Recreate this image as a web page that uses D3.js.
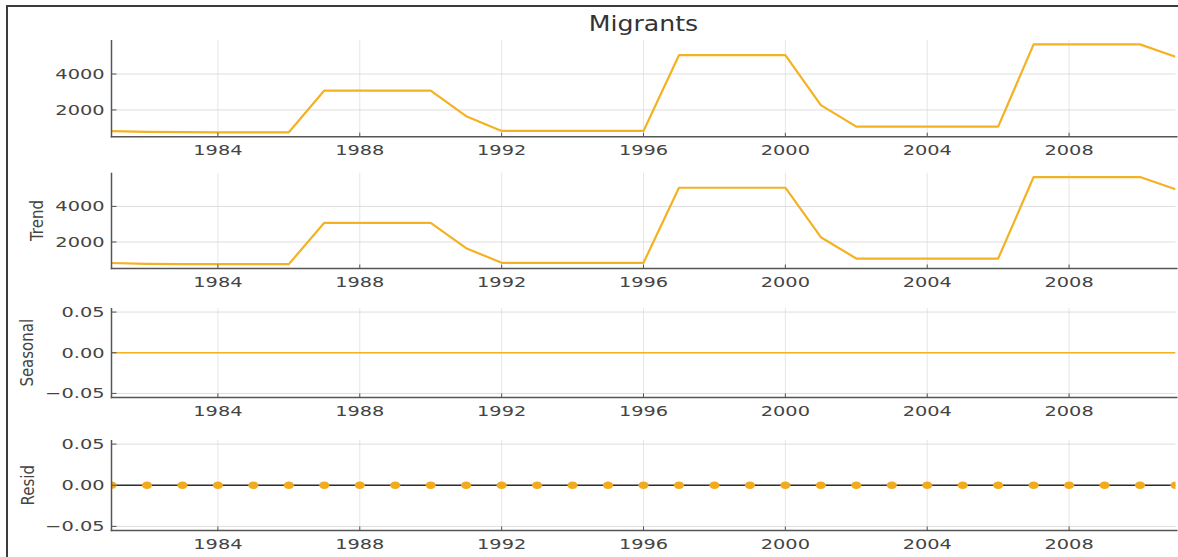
<!DOCTYPE html>
<html>
<head>
<meta charset="utf-8">
<script src="https://cdn.jsdelivr.net/npm/d3@7"></script>
<style>
  html, body { margin: 0; padding: 0; background: #fff; }
  svg { display: block; font-family: "DejaVu Sans", sans-serif; }
</style>
</head>
<body>
<svg id="chart" width="1178" height="557"></svg>
<script>
// Seasonal decomposition of the yearly migrant count
const years = [1981, 1982, 1983, 1984, 1985, 1986, 1987, 1988, 1989, 1990,
               1991, 1992, 1993, 1994, 1995, 1996, 1997, 1998, 1999, 2000,
               2001, 2002, 2003, 2004, 2005, 2006, 2007, 2008, 2009, 2010, 2011];
const observed = [820, 775, 760, 755, 755, 755, 3080, 3080, 3080, 3080,
                  1650, 830, 830, 830, 830, 830, 5050, 5050, 5050, 5050,
                  2270, 1070, 1070, 1070, 1070, 1070, 5650, 5650, 5650, 5650, 4960];
const trend = [820, 775, 760, 755, 755, 755, 3080, 3080, 3080, 3080,
               1650, 830, 830, 830, 830, 830, 5050, 5050, 5050, 5050,
               2270, 1070, 1070, 1070, 1070, 1070, 5650, 5650, 5650, 5650, 4960];
const seasonal = [0, 0, 0, 0, 0, 0, 0, 0, 0, 0, 0, 0, 0, 0, 0, 0,
                  0, 0, 0, 0, 0, 0, 0, 0, 0, 0, 0, 0, 0, 0, 0];
const resid = [0, 0, 0, 0, 0, 0, 0, 0, 0, 0, 0, 0, 0, 0, 0, 0,
               0, 0, 0, 0, 0, 0, 0, 0, 0, 0, 0, 0, 0, 0, 0];
const yearTicks = [1984, 1988, 1992, 1996, 2000, 2004, 2008];
const levelTicks = [2000, 4000];
const zeroTicks = [-0.05, 0, 0.05];
const chartTitle = "Migrants";
const panelNames = ["", "Trend", "Seasonal", "Resid"];

const W = 1178, H = 557;
const LINE = "#f4b223";
const DOT = "#f3ab1e";
const SX = 1.38;   // horizontal stretch of tick text

const svg = d3.select("#chart");
svg.append("rect").attr("width", W).attr("height", H).attr("fill", "#fff");

// outer frame
svg.append("path")
  .attr("d", "M7,557V6H1178")
  .attr("fill", "none").attr("stroke", "#3c3c3c").attr("stroke-width", 2);

const x = d3.scaleLinear().domain(d3.extent(years)).range([111.5, 1175.5]);

const panels = [
  { values: observed, top: 40,    bottom: 136.7, ticks: levelTicks, fmt: d3.format("d"),   kind: "line", lx: 0 },
  { values: trend,    top: 172.7, bottom: 268.5, ticks: levelTicks, fmt: d3.format("d"),   kind: "line", lx: 37 },
  { values: seasonal, top: 308,   bottom: 397.5, ticks: zeroTicks,  fmt: d3.format(".2f"), kind: "thin", lx: 27 },
  { values: resid,    top: 440,   bottom: 530.5, ticks: zeroTicks,  fmt: d3.format(".2f"), kind: "dots", lx: 28 }
];

function paddedDomain(vals) {
  let [lo, hi] = d3.extent(vals);
  if (lo === hi) { lo -= 0.05; hi += 0.05; }
  const pad = (hi - lo) * 0.05;
  return [lo - pad, hi + pad];
}

const [x0, x1] = x.range();

panels.forEach((p, i) => {
  const y = d3.scaleLinear().domain(paddedDomain(p.values)).range([p.bottom, p.top]);
  const g = svg.append("g");

  const clipId = "clip" + i;
  svg.append("clipPath").attr("id", clipId)
    .append("rect").attr("x", x0).attr("y", p.top)
    .attr("width", x1 - x0).attr("height", p.bottom - p.top);

  // grid
  g.selectAll(".vgrid").data(yearTicks).join("line")
    .attr("x1", d => x(d)).attr("x2", d => x(d))
    .attr("y1", p.top).attr("y2", p.bottom)
    .attr("stroke", "#e3e3e3").attr("stroke-width", 0.9);
  g.selectAll(".hgrid").data(p.ticks).join("line")
    .attr("x1", x0).attr("x2", x1)
    .attr("y1", d => y(d)).attr("y2", d => y(d))
    .attr("stroke", "#d9d9d9").attr("stroke-width", 0.9);

  const plot = g.append("g").attr("clip-path", `url(#${clipId})`);
  if (p.kind === "dots") {
    plot.append("line")
      .attr("x1", x0).attr("x2", x1)
      .attr("y1", y(0)).attr("y2", y(0))
      .attr("stroke", "#2e2e2e").attr("stroke-width", 1.3);
    plot.selectAll("ellipse").data(years).join("ellipse")
      .attr("cx", d => x(d))
      .attr("cy", (d, k) => y(p.values[k]))
      .attr("rx", 5).attr("ry", 3.8)
      .attr("fill", DOT);
  } else {
    const line = d3.line().x((d, k) => x(years[k])).y(d => y(d));
    plot.append("path").datum(p.values)
      .attr("d", line)
      .attr("fill", "none")
      .attr("stroke", LINE)
      .attr("stroke-width", p.kind === "thin" ? 1.4 : 2.2)
      .attr("stroke-linejoin", "round");
  }

  // spines
  g.append("line").attr("x1", x0).attr("x2", x0).attr("y1", p.top).attr("y2", p.bottom + 0.75)
    .attr("stroke", "#555").attr("stroke-width", 1.5);
  g.append("line").attr("x1", x0 - 0.75).attr("x2", x1 + 2).attr("y1", p.bottom).attr("y2", p.bottom)
    .attr("stroke", "#555").attr("stroke-width", 1.5);

  // x ticks (inward) and labels
  g.selectAll(".xt").data(yearTicks).join("line")
    .attr("x1", d => x(d)).attr("x2", d => x(d))
    .attr("y1", p.bottom).attr("y2", p.bottom - 4)
    .attr("stroke", "#555").attr("stroke-width", 1);
  g.selectAll(".xl").data(yearTicks).join("g")
    .attr("transform", d => `translate(${x(d)},${p.bottom + 18.5})`)
    .append("text")
    .attr("transform", `scale(${SX},1)`)
    .attr("text-anchor", "middle")
    .attr("font-size", 14).attr("fill", "#444")
    .text(d => d);

  // y ticks (inward) and labels
  g.selectAll(".yt").data(p.ticks).join("line")
    .attr("x1", x0).attr("x2", x0 + 5)
    .attr("y1", d => y(d)).attr("y2", d => y(d))
    .attr("stroke", "#555").attr("stroke-width", 1);
  g.selectAll(".yl").data(p.ticks).join("g")
    .attr("transform", d => `translate(${x0 - 7},${y(d)})`)
    .append("text")
    .attr("transform", `scale(${SX},1)`)
    .attr("text-anchor", "end")
    .attr("dy", "0.36em")
    .attr("font-size", 14).attr("fill", "#444")
    .text(d => p.fmt(d));

  // panel name
  if (panelNames[i]) {
    svg.append("g")
      .attr("transform", `translate(${p.lx},${(p.top + p.bottom) / 2}) scale(1.2,1) rotate(-90)`)
      .append("text")
      .attr("text-anchor", "middle")
      .attr("dy", "0.36em")
      .attr("font-size", 15).attr("fill", "#444")
      .text(panelNames[i]);
  }
});

// title
svg.append("g")
  .attr("transform", `translate(${(x0 + x1) / 2},30.5)`)
  .append("text")
  .attr("transform", "scale(1.2,1)")
  .attr("text-anchor", "middle")
  .attr("font-size", 21).attr("fill", "#333")
  .text(chartTitle);
</script>
</body>
</html>
